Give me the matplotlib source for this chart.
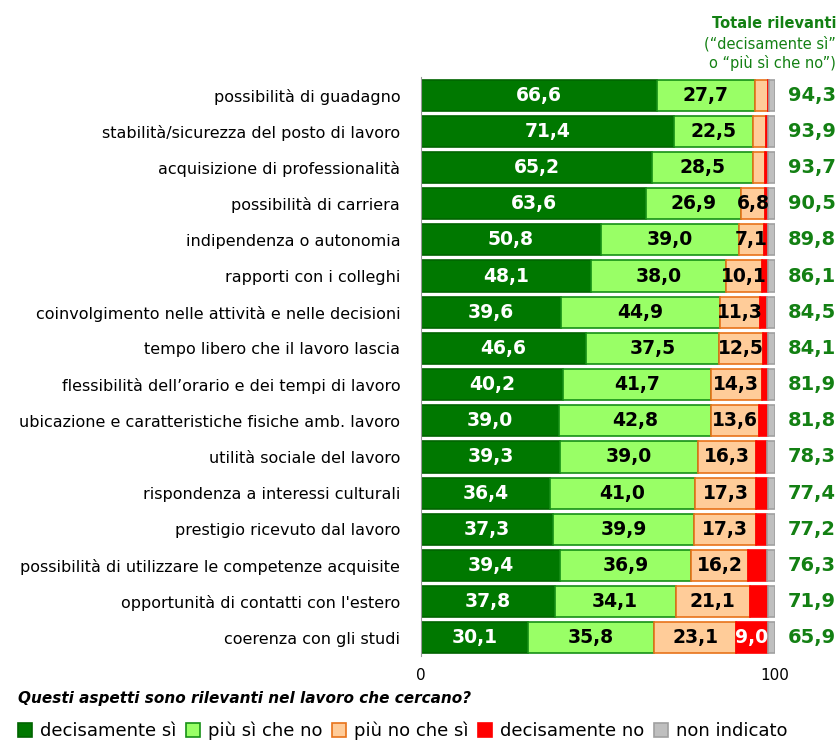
import numpy as np
import matplotlib.pyplot as plt
from matplotlib.transforms import blended_transform_factory

categories = [
    "possibilità di guadagno",
    "stabilità/sicurezza del posto di lavoro",
    "acquisizione di professionalità",
    "possibilità di carriera",
    "indipendenza o autonomia",
    "rapporti con i colleghi",
    "coinvolgimento nelle attività e nelle decisioni",
    "tempo libero che il lavoro lascia",
    "flessibilità dell’orario e dei tempi di lavoro",
    "ubicazione e caratteristiche fisiche amb. lavoro",
    "utilità sociale del lavoro",
    "rispondenza a interessi culturali",
    "prestigio ricevuto dal lavoro",
    "possibilità di utilizzare le competenze acquisite",
    "opportunità di contatti con l'estero",
    "coerenza con gli studi",
]

decisamente_si = [66.6, 71.4, 65.2, 63.6, 50.8, 48.1, 39.6, 46.6, 40.2, 39.0, 39.3, 36.4, 37.3, 39.4, 37.8, 30.1]
piu_si = [27.7, 22.5, 28.5, 26.9, 39.0, 38.0, 44.9, 37.5, 41.7, 42.8, 39.0, 41.0, 39.9, 36.9, 34.1, 35.8]
piu_no = [3.7, 3.6, 3.6, 6.8, 7.1, 10.1, 11.3, 12.5, 14.3, 13.6, 16.3, 17.3, 17.3, 16.2, 21.1, 23.1]
decisamente_no = [0.4, 0.6, 0.8, 0.8, 1.0, 1.8, 2.0, 1.4, 1.8, 2.5, 3.1, 3.2, 3.3, 5.2, 5.0, 9.0]
non_indicato = [1.6, 1.9, 1.9, 1.9, 2.1, 2.0, 2.2, 2.0, 2.0, 2.1, 2.3, 2.1, 2.2, 2.3, 2.0, 2.0]
totale = [94.3, 93.9, 93.7, 90.5, 89.8, 86.1, 84.5, 84.1, 81.9, 81.8, 78.3, 77.4, 77.2, 76.3, 71.9, 65.9]

series = [decisamente_si, piu_si, piu_no, decisamente_no, non_indicato]
names = ["decisamente sì", "più sì che no", "più no che sì", "decisamente no", "non indicato"]
fills = ["#007800", "#99FF66", "#FFCC99", "#FF0000", "#BFBFBF"]
edges = ["#006400", "#169016", "#E8731A", "#FF0000", "#A0A0A0"]
txt_col = ["white", "black", "black", "white", "black"]

plt.rcParams['font.family'] = ['DejaVu Sans']
dark_green = "#138013"

fig = plt.figure(figsize=(8.38, 7.42), dpi=100)
ax = fig.add_axes([421 / 838, 1 - 656 / 742, 354 / 838, 579 / 742])

y = np.arange(len(categories))
left = np.zeros(len(categories))
for vals, name, fc, ec, tc in zip(series, names, fills, edges, txt_col):
    vals = np.array(vals)
    ax.barh(y, vals, left=left, height=0.86, color=fc, edgecolor=ec, linewidth=1.2, label=name)
    for yi, l, v in zip(y, left, vals):
        if v >= 6:
            ax.text(l + v / 2, yi, f"{v:.1f}".replace(".", ","), ha="center", va="center",
                    color=tc, fontsize=13.5, fontweight="bold")
    left += vals

# totals on the right, in figure x / data y
tr = blended_transform_factory(fig.transFigure, ax.transData)
for yi, t in zip(y, totale):
    ax.text(836 / 838, yi, f"{t:.1f}".replace(".", ","), transform=tr, clip_on=False,
            ha="right", va="center", color=dark_green, fontsize=14, fontweight="bold")

ax.set_xlim(0, 100)
ax.set_ylim(len(categories) - 0.5, -0.5)
ax.set_yticks(y)
ax.set_yticklabels(categories, fontsize=11.5)
ax.set_xticks([0, 100])
ax.set_xticklabels(["0", "100"], fontsize=11)
ax.tick_params(axis="y", length=0, pad=15)
ax.tick_params(axis="x", length=0, pad=9)
for s in ["top", "right", "bottom"]:
    ax.spines[s].set_visible(False)
ax.spines["left"].set_color("#999999")

fig.text(836 / 838, 1 - 24 / 742, "Totale rilevanti", ha="right", va="center",
         color=dark_green, fontsize=10.5, fontweight="bold")
fig.text(836 / 838, 1 - 44 / 742, "(“decisamente sì”", ha="right", va="center",
         color=dark_green, fontsize=10.5)
fig.text(836 / 838, 1 - 63 / 742, "o “più sì che no”)", ha="right", va="center",
         color=dark_green, fontsize=10.5)

fig.text(18 / 838, 1 - 699 / 742, "Questi aspetti sono rilevanti nel lavoro che cercano?",
         ha="left", va="center", fontsize=11, fontweight="bold", fontstyle="italic")

fig.legend(loc="center left", bbox_to_anchor=(18 / 838, 1 - 731 / 742), ncol=5, frameon=False,
           fontsize=13, handlelength=0.75, handleheight=0.75, handletextpad=0.45,
           columnspacing=0.55, borderaxespad=0, borderpad=0)

plt.savefig("out.png", dpi=100)
